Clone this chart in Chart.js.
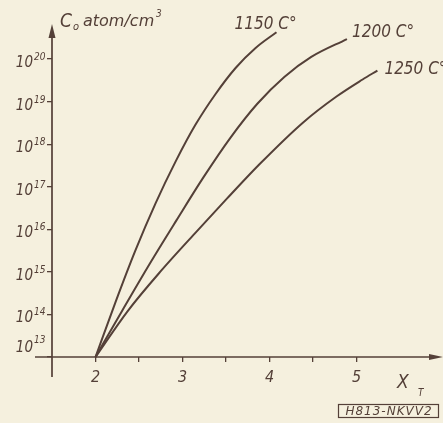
<!DOCTYPE html>
<html>
<head>
<meta charset="utf-8">
<script src="https://cdn.jsdelivr.net/npm/chart.js@4.4.1/dist/chart.umd.min.js"></script>
<style>
  html, body { margin: 0; padding: 0; background: #f5f0de; }
  #wrap { width: 443px; height: 423px; position: relative; }
</style>
</head>
<body>
<div id="wrap"><canvas id="grafik"></canvas></div>
<script>
// x values (X_T) and exponents of C0 (10^n atom/cm3)
const x1150 = [2, 2.23, 2.46, 2.69, 2.92, 3.15, 3.38, 3.61, 3.84, 4.08];
const c1150 = [13, 14.29, 15.51, 16.61, 17.59, 18.46, 19.18, 19.79, 20.26, 20.63];
const x1200 = [2, 2.31, 2.62, 2.93, 3.24, 3.55, 3.86, 4.17, 4.48, 4.89];
const c1200 = [13, 14.1, 15.18, 16.21, 17.22, 18.15, 18.95, 19.58, 20.05, 20.47];
const x1250 = [2, 2.37, 2.76, 3.14, 3.51, 3.89, 4.38, 4.77, 5.07, 5.24];
const c1250 = [13, 14.08, 15.04, 15.9, 16.72, 17.54, 18.5, 19.12, 19.52, 19.73];

const seriesNames = ['1150 C°', '1200 C°', '1250 C°'];
const xTicks = [2, 2.5, 3, 3.5, 4, 4.5, 5];
const yTicks = [13, 14, 15, 16, 17, 18, 19, 20];

const ink = 'rgb(84, 64, 56)';
const narrow = '"DejaVu Sans Condensed", "DejaVu Sans", sans-serif';
const wide = '"DejaVu Sans", sans-serif';

const pairs = (xs, ys) => xs.map((x, i) => ({ x: x, y: ys[i] }));

// where each curve label sits relative to the end of its curve
const labelOffsets = [[-42, -3], [5, -2], [7, 3]];

const extras = {
    id: 'extras',
    afterDraw(chart) {
        const ctx = chart.ctx;
        const ys = chart.scales.y;
        const left = chart.chartArea.left;
        const bottom = chart.chartArea.bottom;
        ctx.save();
        ctx.strokeStyle = ink;
        ctx.fillStyle = ink;
        ctx.lineWidth = 1.7;

        // axes, a bit longer than the plot
        ctx.beginPath();
        ctx.moveTo(left, 30);
        ctx.lineTo(left, 377);
        ctx.moveTo(35, bottom);
        ctx.lineTo(436, bottom);
        ctx.stroke();

        // arrow heads
        ctx.beginPath();
        ctx.moveTo(left, 24);
        ctx.lineTo(left - 3.5, 38);
        ctx.lineTo(left + 3.5, 38);
        ctx.closePath();
        ctx.fill();
        ctx.beginPath();
        ctx.moveTo(443, bottom);
        ctx.lineTo(429, bottom - 3);
        ctx.lineTo(429, bottom + 3);
        ctx.closePath();
        ctx.fill();

        // y tick labels 10^n
        ctx.textBaseline = 'alphabetic';
        yTicks.forEach(v => {
            const py = ys.getPixelForValue(v);
            const low = v === 13;
            ctx.font = 'italic 15px ' + narrow;
            ctx.textAlign = 'right';
            ctx.fillText('10', left - 19, py + (low ? -5 : 8));
            ctx.font = 'italic 10px ' + narrow;
            ctx.textAlign = 'left';
            ctx.fillText(String(v), left - 18, py + (low ? -14 : 1));
        });

        // axis titles
        ctx.textAlign = 'left';
        ctx.font = 'italic 19px ' + narrow;
        ctx.fillText('C', 60, 27);
        ctx.font = 'italic 11px ' + narrow;
        ctx.fillText('o', 73, 30);
        ctx.font = 'italic 16px ' + wide;
        ctx.fillText('atom/cm', 83, 26);
        ctx.font = 'italic 10px ' + narrow;
        ctx.fillText('3', 156, 17);

        ctx.font = 'italic 19px ' + narrow;
        ctx.fillText('X', 397, 388);
        ctx.font = 'italic 10px ' + narrow;
        ctx.fillText('T', 418, 396);

        // curve labels
        ctx.font = 'italic 17px ' + narrow;
        chart.data.datasets.forEach((ds, i) => {
            const meta = chart.getDatasetMeta(i);
            const last = meta.data[meta.data.length - 1];
            ctx.fillText(ds.label, last.x + labelOffsets[i][0], last.y + labelOffsets[i][1]);
        });

        // drawing number box
        ctx.lineWidth = 1.2;
        ctx.strokeRect(338.5, 404.5, 100, 13);
        ctx.font = 'italic 12px ' + wide;
        ctx.letterSpacing = '1px';
        ctx.textAlign = 'center';
        ctx.textBaseline = 'middle';
        ctx.fillText('H813-NKVV2', 389, 411.5);
        ctx.restore();
    }
};

const lineStyle = {
    borderColor: ink,
    borderWidth: 2,
    pointRadius: 0,
    fill: false,
    cubicInterpolationMode: 'monotone',
    clip: false
};

new Chart(document.getElementById('grafik'), {
    type: 'line',
    data: {
        datasets: [
            Object.assign({ label: seriesNames[0], data: pairs(x1150, c1150) }, lineStyle),
            Object.assign({ label: seriesNames[1], data: pairs(x1200, c1200) }, lineStyle),
            Object.assign({ label: seriesNames[2], data: pairs(x1250, c1250) }, lineStyle)
        ]
    },
    options: {
        responsive: true,
        maintainAspectRatio: false,
        animation: false,
        layout: { padding: { top: 25, right: 4, left: 0, bottom: 0 } },
        plugins: {
            legend: { display: false },
            tooltip: { enabled: false }
        },
        scales: {
            x: {
                type: 'linear',
                min: 1.5,
                max: 5.948,
                afterBuildTicks: s => { s.ticks = xTicks.map(v => ({ value: v })); },
                afterFit: s => { s.height = 66; },
                border: { display: false },
                grid: { drawOnChartArea: false, drawTicks: true, tickLength: 5, color: ink, lineWidth: 1.3 },
                ticks: {
                    padding: 6,
                    color: ink,
                    maxRotation: 0,
                    autoSkip: false,
                    font: { family: narrow, style: 'italic', size: 16 },
                    callback: v => Number.isInteger(v) ? String(v) : ''
                }
            },
            y: {
                type: 'linear',
                min: 13,
                max: 20.8,
                afterBuildTicks: s => { s.ticks = yTicks.map(v => ({ value: v })); },
                afterFit: s => { s.width = 52; },
                border: { display: false },
                grid: { drawOnChartArea: false, drawTicks: true, tickLength: 5, color: ink, lineWidth: 1.3 },
                ticks: { callback: () => '', autoSkip: false }
            }
        }
    },
    plugins: [extras]
});
</script>
</body>
</html>
